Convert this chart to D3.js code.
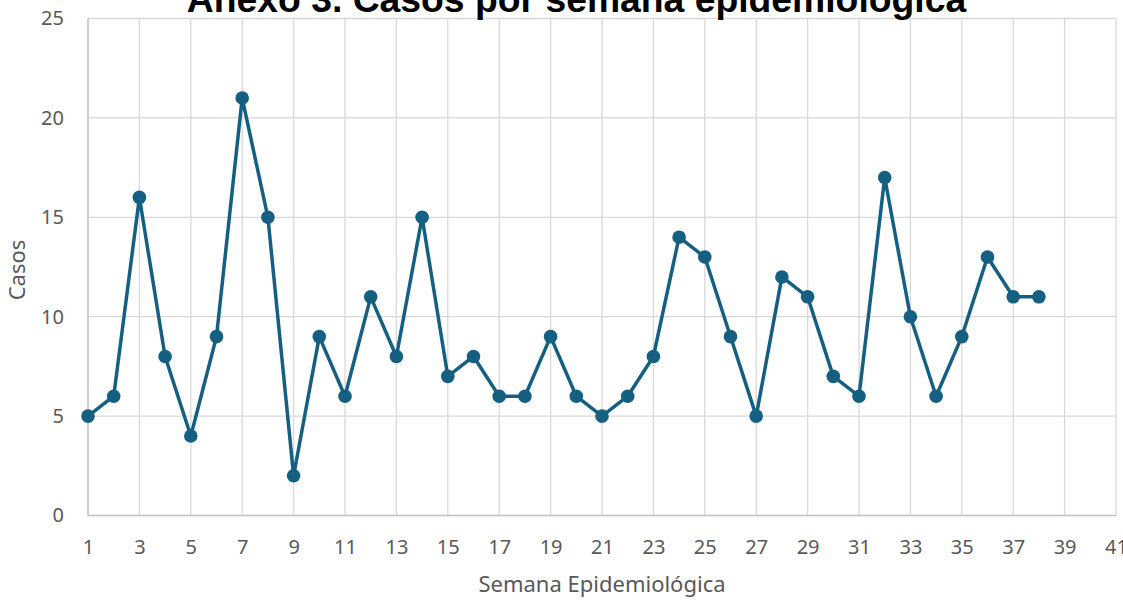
<!DOCTYPE html>
<html><head><meta charset="utf-8">
<script src="https://cdn.jsdelivr.net/npm/d3@7"></script>
<style>body{margin:0;background:#fff}svg{display:block}</style>
</head><body>
<svg id="c" width="1123" height="603"></svg>
<script>
const weeks = d3.range(1, 39);
const cases = [5,6,16,8,4,9,21,15,2,9,6,11,8,15,7,8,6,6,9,6,5,6,8,14,13,9,5,12,11,7,6,17,10,6,9,13,11,11];
const xTicks = d3.range(1, 42, 2);
const yTicks = [0,5,10,15,20,25];
const title = "Anexo 3. Casos por semana epidemiológica";
const xTitle = "Semana Epidemiológica";
const yTitle = "Casos";

const svg = d3.select("#c");
const x = d3.scaleLinear().domain([1,41]).range([88,1116]);
const y = d3.scaleLinear().domain([0,25]).range([515.5,18.5]);
const font = "'Noto Sans', sans-serif";
const grid = "#d9d9d9";

svg.append("g").selectAll("line").data(yTicks.filter(d=>d>0)).join("line")
  .attr("x1",x(1)).attr("x2",x(41)).attr("y1",d=>y(d)).attr("y2",d=>y(d))
  .attr("stroke",grid).attr("stroke-width",1.3);
svg.append("g").selectAll("line").data(xTicks.filter(d=>d>1)).join("line")
  .attr("x1",d=>x(d)).attr("x2",d=>x(d)).attr("y1",y(0)).attr("y2",y(25))
  .attr("stroke",grid).attr("stroke-width",1.3);
svg.append("line").attr("x1",x(1)).attr("x2",x(41)).attr("y1",y(0)).attr("y2",y(0)).attr("stroke","#bfbfbf").attr("stroke-width",1.5);
svg.append("line").attr("x1",x(1)).attr("x2",x(1)).attr("y1",y(0)).attr("y2",y(25)).attr("stroke","#bfbfbf").attr("stroke-width",1.5);

const xAxis = d3.axisBottom(x).tickValues(xTicks).tickSize(0).tickPadding(24);
const gx = svg.append("g").attr("transform",`translate(0,${y(0)})`).call(xAxis);
gx.select(".domain").remove();
gx.selectAll("text").attr("font-family",font).attr("font-size",20).attr("fill","#595959");

const yAxis = d3.axisLeft(y).tickValues(yTicks).tickSize(0).tickPadding(24);
const gy = svg.append("g").attr("transform",`translate(${x(1)},0)`).call(yAxis);
gy.select(".domain").remove();
gy.selectAll("text").attr("font-family",font).attr("font-size",20).attr("fill","#595959");

const line = d3.line().x((d,i)=>x(weeks[i])).y(d=>y(d));
svg.append("path").datum(cases).attr("d",line).attr("fill","none")
  .attr("stroke","#156082").attr("stroke-width",3.5).attr("stroke-linejoin","round");
svg.append("g").selectAll("circle").data(cases).join("circle")
  .attr("cx",(d,i)=>x(weeks[i])).attr("cy",d=>y(d)).attr("r",6.8).attr("fill","#156082");

svg.append("text").attr("x",576.5).attr("y",12).attr("text-anchor","middle")
  .attr("font-family","'Liberation Sans', Arial, sans-serif").attr("font-weight","bold")
  .attr("font-size",37.3).attr("fill","#000").text(title);
svg.append("text").attr("x",602).attr("y",592).attr("text-anchor","middle")
  .attr("font-family",font).attr("font-size",22).attr("fill","#595959").text(xTitle);
svg.append("text").attr("transform","translate(25,270) rotate(-90)").attr("text-anchor","middle")
  .attr("font-family",font).attr("font-size",22).attr("fill","#595959").text(yTitle);
</script>
</body></html>
